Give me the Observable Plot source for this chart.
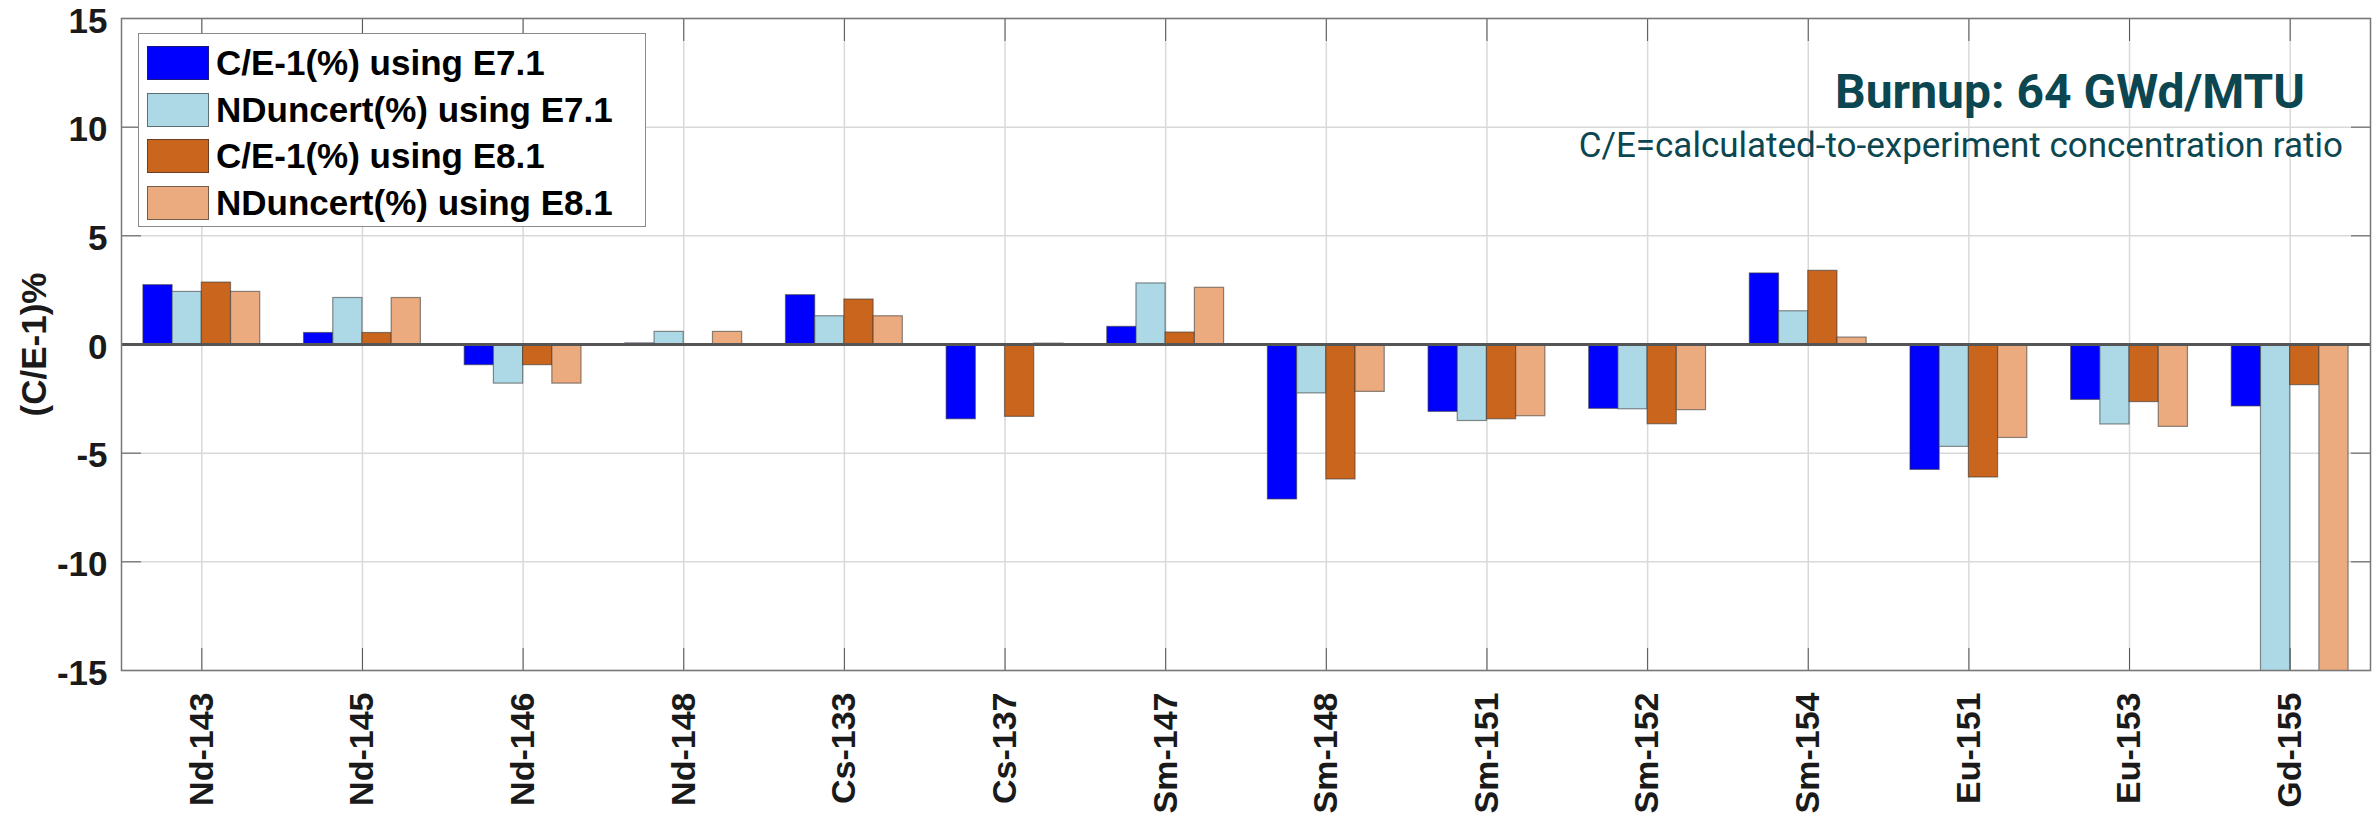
<!DOCTYPE html>
<html>
<head>
<meta charset="utf-8">
<script src="https://cdn.jsdelivr.net/npm/d3@7"></script>
<script src="https://cdn.jsdelivr.net/npm/@observablehq/plot@0.6"></script>
<style>
  html, body { margin: 0; padding: 0; background: #fff; }
  #wrap { position: relative; width: 2372px; height: 839px; overflow: hidden; }
  #legend { position: absolute; left: 138px; top: 33px; width: 508px; height: 194px;
            border: 1.5px solid #8a8a8a; background: #fff; box-sizing: border-box; }
  .row { position: absolute; left: 8px; height: 34px; display: flex; align-items: center;
         font-family: "Liberation Sans", Arial, sans-serif; font-weight: bold; font-size: 35px; color: #000; }
  .sw { width: 62px; height: 34px; box-sizing: border-box; border: 1.2px solid rgba(40,40,40,0.6); margin-right: 7px; }
  .ann { position: absolute; font-family: Roboto, "Noto Sans", sans-serif; color: #0b4651; white-space: nowrap;
         transform: translate(-100%, -50%); line-height: 1.2; }
</style>
</head>
<body>
<div id="wrap"></div>
<script>
const categories = ["Nd-143","Nd-145","Nd-146","Nd-148","Cs-133","Cs-137","Sm-147","Sm-148","Sm-151","Sm-152","Sm-154","Eu-151","Eu-153","Gd-155"];
const seriesNames = ["C/E-1(%) using E7.1","NDuncert(%) using E7.1","C/E-1(%) using E8.1","NDuncert(%) using E8.1"];
const seriesColors = ["#0000ff","#add8e6","#ca651d","#ebab7e"];
const ceE71 = [2.73, 0.53, -0.95, 0.05, 2.27, -3.44, 0.81, -7.13, -3.10, -2.96, 3.27, -5.77, -2.55, -2.85];
const ndE71 = [2.42, 2.14, -1.80, 0.58, 1.30, 0.02, 2.81, -2.25, -3.52, -2.98, 1.53, -4.71, -3.68, -20];
const ceE81 = [2.85, 0.53, -0.95, -0.05, 2.07, -3.33, 0.55, -6.21, -3.44, -3.67, 3.39, -6.12, -2.65, -1.87];
const ndE81 = [2.42, 2.14, -1.80, 0.58, 1.30, 0.04, 2.61, -2.18, -3.30, -3.02, 0.32, -4.30, -3.79, -20];
const yTicks = [-15, -10, -5, 0, 5, 10, 15];

const seriesValues = [ceE71, ndE71, ceE81, ndE81];
const rows = [];
categories.forEach((c, i) => seriesValues.forEach((vals, k) => rows.push({cat: c, pos: i + 1, k, series: seriesNames[k], value: vals[i]})));

// MATLAB grouped bar geometry: group width 4/5.5 of category step
const groupW = 4 / 5.5, barW = groupW / 4;
const xTicks = categories.map((c, i) => i + 1);
const font = "'Liberation Sans', Arial, sans-serif";
const blank = () => "";

const chart = Plot.plot({
  width: 2372,
  height: 839,
  marginTop: 18,
  marginBottom: 169,
  marginLeft: 121,
  marginRight: 2,
  style: {fontFamily: font, fontWeight: "bold", fontSize: "35px", color: "#1a1a1a", background: "#fff"},
  x: {domain: [0.5, categories.length + 0.5], axis: null},
  y: {domain: [-15, 15], axis: null},
  color: {domain: seriesNames, range: seriesColors},
  marks: [
    Plot.gridX(xTicks, {stroke: "#d9d9d9", strokeOpacity: 1, strokeWidth: 1.5}),
    Plot.gridY(yTicks, {stroke: "#d9d9d9", strokeOpacity: 1, strokeWidth: 1.5}),
    Plot.rect(rows, {
      x1: d => d.pos - groupW / 2 + d.k * barW,
      x2: d => d.pos - groupW / 2 + (d.k + 1) * barW,
      y1: 0, y2: "value", fill: "series",
      stroke: "#333", strokeOpacity: 0.55, strokeWidth: 1.2, clip: true
    }),
    Plot.ruleY([0], {stroke: "#555", strokeWidth: 3}),
    // tick labels
    Plot.axisY(yTicks, {anchor: "left", tickSize: 0, tickPadding: 14, dy: 3, tickFormat: d => String(d),
      label: "(C/E-1)%", labelAnchor: "center", labelOffset: 100, labelArrow: "none", fontSize: 35}),
    Plot.axisX(xTicks, {anchor: "bottom", tickSize: 0, tickPadding: 22, tickRotate: -90,
      tickFormat: d => categories[d - 1], label: null, fontSize: 34}),
    // inward tick marks on all four sides
    Plot.axisY(yTicks, {anchor: "left", tickSize: 20, dx: 20, tickFormat: blank, label: null, stroke: "#555"}),
    Plot.axisY(yTicks, {anchor: "right", tickSize: 20, dx: -20, tickFormat: blank, label: null, stroke: "#555"}),
    Plot.axisX(xTicks, {anchor: "bottom", tickSize: 22, dy: -22, tickFormat: blank, label: null, stroke: "#555"}),
    Plot.axisX(xTicks, {anchor: "top", tickSize: 22, dy: 22, tickFormat: blank, label: null, stroke: "#555"}),
    Plot.frame({stroke: "#777", strokeWidth: 1.5})
  ]
});

const wrap = document.getElementById("wrap");
wrap.appendChild(chart);

// legend (inside the axes, upper left)
const legend = document.createElement("div");
legend.id = "legend";
seriesNames.forEach((name, k) => {
  const r = document.createElement("div");
  r.className = "row";
  r.style.top = (12 + k * 46.5) + "px";
  const sw = document.createElement("div");
  sw.className = "sw";
  sw.style.background = seriesColors[k];
  const t = document.createElement("span");
  t.textContent = name;
  r.appendChild(sw); r.appendChild(t);
  legend.appendChild(r);
});
wrap.appendChild(legend);

// annotations, right-aligned
function annotation(text, rx, cy, weight, size) {
  const a = document.createElement("div");
  a.className = "ann";
  a.style.left = rx + "px"; a.style.top = cy + "px";
  a.style.fontWeight = weight; a.style.fontSize = size + "px";
  a.textContent = text;
  wrap.appendChild(a);
  return a;
}
annotation("Burnup: 64 GWd/MTU", 2305, 92, "bold", 48);
annotation("C/E=calculated-to-experiment concentration ratio", 2343, 146, "normal", 35);
</script>
</body>
</html>
